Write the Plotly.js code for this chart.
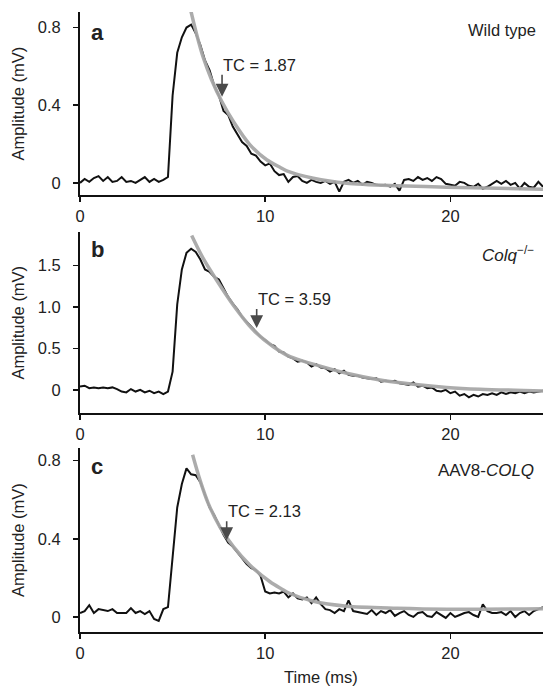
<!DOCTYPE html>
<html>
<head>
<meta charset="utf-8">
<script src="https://cdn.plot.ly/plotly-3.0.1.min.js"></script>
<style>html,body{margin:0;padding:0;background:#fff;}#chart{width:544px;height:687px;}</style>
</head>
<body>
<div id="chart"></div>
<script>
// Time axis (ms) for recorded traces
const time = [0,0.25,0.5,0.75,1,1.25,1.5,1.75,2,2.25,2.5,2.75,3,3.25,3.5,3.75,4,4.25,4.5,4.75,
5,5.25,5.5,5.75,6,6.25,6.5,6.75,7,7.25,7.5,7.75,8,8.25,8.5,8.75,9,9.25,9.5,9.75,
10,10.25,10.5,10.75,11,11.25,11.5,11.75,12,12.25,12.5,12.75,13,13.25,13.5,13.75,14,14.25,14.5,14.75,
15,15.25,15.5,15.75,16,16.25,16.5,16.75,17,17.25,17.5,17.75,18,18.25,18.5,18.75,19,19.25,19.5,19.75,
20,20.25,20.5,20.75,21,21.25,21.5,21.75,22,22.25,22.5,22.75,23,23.25,23.5,23.75,24,24.25,24.5,24.75,25];

// Panel a: Wild type (mV)
const wildTrace = [0.0,0.02,0.005,0.025,0.035,0.01,0.03,0.005,0.01,0.03,0.005,0.01,0.0,0.015,0.03,0.005,0.02,0.005,0.015,0.03,
0.45,0.67,0.75,0.80,0.815,0.77,0.71,0.63,0.58,0.50,0.45,0.37,0.35,0.29,0.25,0.21,0.19,0.15,0.14,0.11,
0.09,0.10,0.06,0.04,0.045,0.005,0.03,0.035,0.01,0.0,0.015,0.005,0.0,0.01,-0.005,0.005,-0.045,0.005,0.015,0.0,
0.01,-0.01,0.005,0.0,-0.01,-0.012,-0.01,-0.02,-0.005,-0.04,0.015,0.02,0.01,0.03,0.015,0.025,0.01,0.03,0.02,-0.005,
-0.01,-0.015,0.005,0.0,-0.015,-0.02,-0.005,-0.03,-0.02,-0.005,0.01,-0.005,0.01,-0.01,0.0,-0.03,0.0,-0.02,-0.025,0.005,-0.02];
const wildFitT = [5.98,6.3,6.66,7.11,7.65,8.28,9.18,10.08,10.8,11.16,12.6,14.4,17.1,19.8,25];
const wildFitV = [0.888,0.764,0.644,0.53,0.42,0.316,0.196,0.119,0.08,0.062,0.024,-0.002,-0.015,-0.022,-0.033];

// Panel b: Colq-/- (mV)
const colqTrace = [0.04,0.05,0.02,0.03,0.02,0.03,0.02,0.03,0.01,-0.02,-0.03,0.01,-0.02,0.0,-0.03,-0.01,-0.04,-0.02,-0.05,-0.02,
0.22,1.03,1.45,1.65,1.70,1.66,1.57,1.45,1.42,1.36,1.33,1.22,1.12,1.04,0.97,0.88,0.82,0.76,0.70,0.64,
0.60,0.55,0.53,0.46,0.45,0.40,0.38,0.34,0.35,0.33,0.28,0.31,0.27,0.26,0.22,0.25,0.20,0.23,0.18,0.17,
0.17,0.15,0.14,0.13,0.14,0.10,0.11,0.10,0.11,0.08,0.07,0.06,0.09,0.04,0.05,0.02,0.03,-0.01,-0.02,0.0,
-0.04,-0.02,-0.07,-0.05,-0.09,-0.06,-0.08,-0.05,-0.06,-0.04,-0.06,-0.03,-0.05,-0.03,-0.04,-0.02,-0.04,-0.02,-0.03,-0.02,-0.01];
const colqFitT = [6.03,6.66,7.38,8.28,9.36,10.44,11.34,12.6,14.4,16.2,18.0,19.8,21.6,25];
const colqFitV = [1.86,1.58,1.32,1.02,0.72,0.52,0.40,0.31,0.20,0.12,0.068,0.03,0.008,-0.012];

// Panel c: AAV8-COLQ (mV)
const aavTrace = [0.02,0.03,0.06,0.02,0.04,0.035,0.03,0.04,0.02,0.02,0.02,0.045,0.02,0.03,0.015,0.03,-0.01,-0.02,0.04,0.05,
0.32,0.56,0.68,0.76,0.73,0.725,0.69,0.62,0.56,0.52,0.47,0.42,0.38,0.36,0.33,0.30,0.27,0.25,0.24,0.21,
0.13,0.12,0.125,0.12,0.13,0.10,0.12,0.095,0.09,0.10,0.07,0.10,0.065,0.04,0.035,0.02,0.04,0.03,0.085,0.03,
0.025,0.02,0.015,0.035,0.01,0.03,0.02,0.035,0.005,0.02,0.03,0.01,0.0,0.02,0.025,0.005,0.0,0.025,0.01,-0.005,
0.02,0.0,0.01,0.02,0.025,0.01,0.0,0.065,0.03,0.02,0.02,0.025,0.01,0.03,0.0,0.02,0.03,0.01,0.03,0.04,0.05];
const aavFitT = [6.08,6.48,6.93,7.56,8.28,9.18,10.26,10.8,11.34,12.6,14.4,17.1,19.8,25];
const aavFitV = [0.83,0.70,0.58,0.46,0.36,0.265,0.18,0.148,0.12,0.08,0.055,0.045,0.04,0.042];

// Tick labels
const ticksX = [0,10,20];
const ticksXText = ['0','10','20'];
const ticksA = [0,0.4,0.8], ticksAText = ['0','0.4','0.8'];
const ticksB = [0,0.5,1.0,1.5], ticksBText = ['0','0.5','1.0','1.5'];
const ticksC = [0,0.4,0.8], ticksCText = ['0','0.4','0.8'];

const FONT = 'Liberation Sans, Arial, Helvetica, sans-serif';
const fitLine = {color:'#a8a8a8', width:3.5, shape:'spline', smoothing:0.8};
const traceLine = {color:'#111', width:2};

const data = [
  {x:time, y:wildTrace, xaxis:'x', yaxis:'y', mode:'lines', line:traceLine},
  {x:wildFitT, y:wildFitV, xaxis:'x', yaxis:'y', mode:'lines', line:fitLine, opacity:0.95},
  {x:time, y:colqTrace, xaxis:'x2', yaxis:'y2', mode:'lines', line:traceLine},
  {x:colqFitT, y:colqFitV, xaxis:'x2', yaxis:'y2', mode:'lines', line:fitLine, opacity:0.95},
  {x:time, y:aavTrace, xaxis:'x3', yaxis:'y3', mode:'lines', line:traceLine},
  {x:aavFitT, y:aavFitV, xaxis:'x3', yaxis:'y3', mode:'lines', line:fitLine, opacity:0.95}
];

function xax(anchor){
  return {anchor:anchor, domain:[0,1], range:[0,25], tickvals:ticksX, ticktext:ticksXText,
    showline:true, linewidth:2, linecolor:'#111', ticks:'outside', ticklen:5, tickwidth:1.5, tickcolor:'#111',
    showgrid:false, zeroline:false, tickfont:{family:FONT, size:16.5, color:'#222'}, ticklabelstandoff:0};
}
function yax(anchor, domain, range, tv, tt){
  return {anchor:anchor, domain:domain, range:range, tickvals:tv, ticktext:tt,
    showline:true, linewidth:2, linecolor:'#111', ticks:'outside', ticklen:5, tickwidth:1.5, tickcolor:'#111',
    showgrid:false, zeroline:false, tickfont:{family:FONT, size:16.5, color:'#222'}, ticklabelstandoff:9};
}

const txt = (s, size, extra) => Object.assign({showarrow:false, font:{family:FONT, size:size, color:'#222'}, text:s}, extra);

const annotations = [
  // y titles
  txt('Amplitude (mV)', 16.5, {xref:'paper', yref:'paper', x:-0.134, y:0.8525, textangle:-90, xanchor:'center', yanchor:'middle'}),
  txt('Amplitude (mV)', 16.5, {xref:'paper', yref:'paper', x:-0.134, y:0.499, textangle:-90, xanchor:'center', yanchor:'middle'}),
  txt('Amplitude (mV)', 16.5, {xref:'paper', yref:'paper', x:-0.134, y:0.1485, textangle:-90, xanchor:'center', yanchor:'middle'}),
  // x title
  txt('Time (ms)', 16.5, {xref:'paper', yref:'paper', x:0.52, y:-0.072, xanchor:'center', yanchor:'middle'}),
  // panel letters
  txt('<b>a</b>', 22, {xref:'x', yref:'y', x:0.5, y:0.776, xanchor:'left', yanchor:'middle'}),
  txt('<b>b</b>', 22, {xref:'x2', yref:'y2', x:0.5, y:1.69, xanchor:'left', yanchor:'middle'}),
  txt('<b>c</b>', 22, {xref:'x3', yref:'y3', x:0.5, y:0.768, xanchor:'left', yanchor:'middle'}),
  // genotype labels
  txt('Wild type', 16.5, {xref:'x', yref:'y', x:24.75, y:0.786, xanchor:'right', yanchor:'middle'}),
  txt('<i>Colq</i><sup>−/−</sup>', 17, {xref:'x2', yref:'y2', x:24.6, y:1.64, xanchor:'right', yanchor:'middle'}),
  txt('AAV8-<i>COLQ</i>', 17, {xref:'x3', yref:'y3', x:24.6, y:0.749, xanchor:'right', yanchor:'middle'})
];
// TC labels with arrows pointing at the fitted curve
const arrowStyle = {showarrow:true, arrowhead:2, arrowsize:1.6, arrowwidth:1.6, arrowcolor:'#4a4a4a',
  ax:0, ay:-22, axref:'pixel', ayref:'pixel', xanchor:'left', yanchor:'bottom', borderpad:0,
  font:{family:FONT, size:16.5, color:'#222'}};
annotations.push(Object.assign({}, arrowStyle, {xref:'x', yref:'y', x:7.67, y:0.444, text:'TC = 1.87'}));
annotations.push(Object.assign({}, arrowStyle, {xref:'x2', yref:'y2', x:9.54, y:0.744, ay:-19, text:'TC = 3.59'}));
annotations.push(Object.assign({}, arrowStyle, {xref:'x3', yref:'y3', x:7.92, y:0.393, ay:-19, text:'TC = 2.13'}));

const layout = {
  width:544, height:687, showlegend:false,
  margin:{l:80, r:1, t:12, b:55, pad:0},
  paper_bgcolor:'#fff', plot_bgcolor:'#fff',
  font:{family:FONT, color:'#222'},
  xaxis:xax('y'), xaxis2:xax('y2'), xaxis3:xax('y3'),
  yaxis:yax('x', [0.705,1], [-0.062,0.88], ticksA, ticksAText),
  yaxis2:yax('x2', [0.353,0.645], [-0.28,1.9], ticksB, ticksBText),
  yaxis3:yax('x3', [0,0.297], [-0.077,0.865], ticksC, ticksCText),
  annotations:annotations
};

Plotly.newPlot('chart', data, layout, {displayModeBar:false, staticPlot:true});
</script>
</body>
</html>
